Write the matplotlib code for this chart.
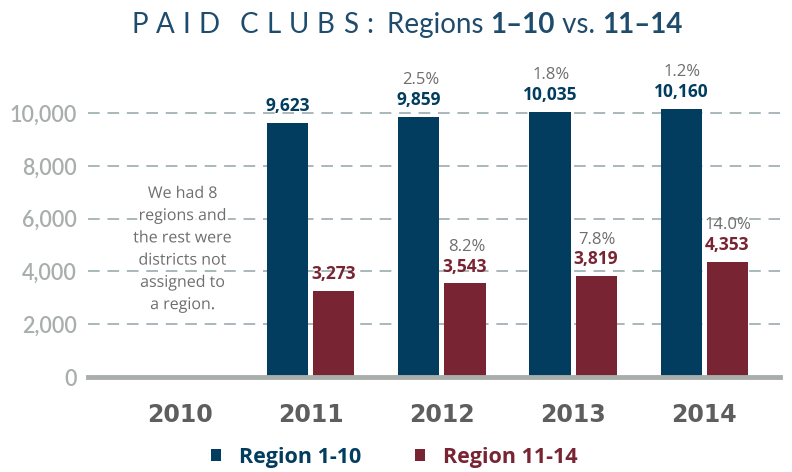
import math

import matplotlib
matplotlib.use("Agg")
import matplotlib.pyplot as plt
import matplotlib.patheffects as pe
import numpy as np

years = ["2010", "2011", "2012", "2013", "2014"]
region_1_10 = [np.nan, 9623, 9859, 10035, 10160]
region_11_14 = [np.nan, 3273, 3543, 3819, 4353]
growth_1_10 = [None, None, 2.5, 1.8, 1.2]
growth_11_14 = [None, None, 8.2, 7.8, 14.0]
y_ticks = [0, 2000, 4000, 6000, 8000, 10000]
note = "We had 8\nregions and\nthe rest were\ndistricts not\nassigned to\na region."

BLUE = "#023d5f"
RED = "#782432"
TITLE_C = "#1f4c6c"
GREY_TXT = "#6e6e6e"
YEAR_C = "#5e5e5e"
TICK_C = "#a8aeab"
GRID_C = "#a9b8bb"

W, H = 792, 472
fig = plt.figure(figsize=(W / 100, H / 100), dpi=100)
ax = fig.add_axes([88 / W, 95 / H, (780 - 88) / W, 290.4 / H])

x = np.arange(len(years))
off, bw = 0.1756, 0.313
b1 = ax.bar(x - off, region_1_10, bw, color=BLUE, zorder=2, label="Region 1-10")
b2 = ax.bar(x + off, region_11_14, bw, color=RED, zorder=2, label="Region 11-14")

ax.set_xlim(-0.702, 4.58)
ax.set_ylim(0, 11000)

for xs, vals, grow, col in [(x - off, region_1_10, growth_1_10, BLUE),
                            (x + off, region_11_14, growth_11_14, RED)]:
    for xi, v, g in zip(xs, vals, grow):
        if isinstance(v, float) and math.isnan(v):
            continue
        ax.annotate(f"{v:,.0f}", (xi, v), xytext=(0, 8.5), textcoords="offset points",
                    ha="center", va="baseline", fontsize=12.5, fontweight="bold",
                    color=col, family="Open Sans")
        if g is not None:
            ax.annotate(f"{g:.1f}%", (xi, v), xytext=(1, 23.5), textcoords="offset points",
                        ha="center", va="baseline", fontsize=12, color=GREY_TXT,
                        family="Open Sans")

ax.text(0.02, 4830, note, ha="center", va="center", fontsize=11.5, color=GREY_TXT,
        family="Open Sans", linespacing=1.52, zorder=3,
        path_effects=[pe.withStroke(linewidth=4, foreground="white")])

# grid
for t in y_ticks[1:]:
    ax.axhline(t, color=GRID_C, lw=1.4, ls=(0, (6, 4)), zorder=1)

for s in ["top", "right", "left"]:
    ax.spines[s].set_visible(False)
ax.spines["bottom"].set_color(TICK_C)
ax.spines["bottom"].set_linewidth(3.5)
ax.spines["bottom"].set_zorder(3)

ax.set_yticks(y_ticks)
ax.set_yticklabels([f"{t:,}" for t in y_ticks])
ax.tick_params(axis="y", length=0, pad=8, labelcolor=TICK_C, labelsize=15.5)
for lab in ax.get_yticklabels():
    lab.set_family("Lato")
    lab.set_fontweight("semibold")

ax.set_xticks(x)
ax.set_xticklabels(years)
ax.tick_params(axis="x", length=0, pad=19, labelcolor=YEAR_C, labelsize=17)
for lab in ax.get_xticklabels():
    lab.set_family("DejaVu Sans")
    lab.set_fontweight("bold")

leg = ax.legend(handles=[b1, b2], ncol=2, loc="center", frameon=False,
                bbox_to_anchor=(394 / W, (H - 457) / H), bbox_transform=fig.transFigure,
                prop={"family": "Open Sans", "weight": "bold", "size": 15.5},
                handlelength=0.5, handleheight=0.5, handletextpad=0.8,
                columnspacing=2.5)
for txt, col in zip(leg.get_texts(), [BLUE, RED]):
    txt.set_color(col)

# title, built piece by piece
renderer = fig.canvas.get_renderer()
pieces = []
cx = 0.0
base_y = (H - 33) / H
for ch in "PAID CLUBS:":
    t = fig.text(0, base_y, ch, fontsize=20, color=TITLE_C, family="Lato",
                 fontweight="normal", va="baseline")
    wpx = t.get_window_extent(renderer).width if ch != " " else 4
    pieces.append((t, cx))
    cx += wpx + 8
cx += 6
for s, wt in [("Regions ", "normal"), ("1–10", "bold"), (" vs. ", "normal"), ("11–14", "bold")]:
    t = fig.text(0, base_y, s, fontsize=20, color=TITLE_C, family="Lato",
                 fontweight=wt, va="baseline")
    pieces.append((t, cx))
    cx += t.get_window_extent(renderer).width
start = 407 - cx / 2
for t, px in pieces:
    t.set_x((start + px) / W)

fig.savefig("out.png", dpi=100)
